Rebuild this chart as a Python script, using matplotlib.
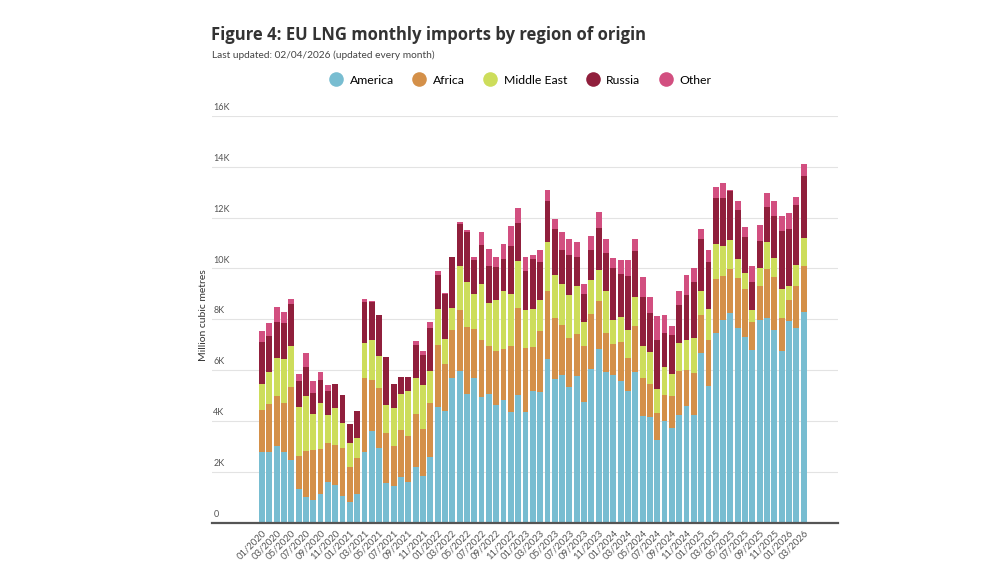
import numpy as np
import matplotlib
matplotlib.use("Agg")
import matplotlib.pyplot as plt
from matplotlib.lines import Line2D
from matplotlib.transforms import blended_transform_factory

# ---- data (million cubic metres, read in thousands) ----
months = [f"{m:02d}/{y}" for y in range(2020, 2027) for m in range(1, 13)][:75]

america = np.array([2.77, 2.77, 3.01, 2.77, 2.46, 1.30, 0.99, 0.88, 1.12, 1.59, 1.49, 1.03,
                    0.82, 1.13, 2.79, 3.59, 2.93, 1.57, 1.45, 1.80, 1.59, 2.20, 1.84, 2.56,
                    4.55, 4.40, 5.68, 5.95, 5.07, 5.70, 4.93, 5.04, 4.64, 4.83, 4.34, 5.00,
                    4.34, 5.17, 5.13, 6.45, 5.66, 5.79, 5.34, 5.76, 4.76, 6.03, 6.84, 5.92,
                    5.82, 5.55, 5.18, 5.91, 4.21, 4.14, 3.24, 4.01, 3.71, 4.24, 4.57, 4.24,
                    6.67, 5.39, 7.46, 7.99, 8.24, 7.67, 7.32, 6.80, 7.99, 8.04, 7.59, 6.74,
                    7.95, 7.66, 8.28]) * 1000
africa = np.array([1.67, 1.90, 1.95, 1.94, 2.89, 1.33, 1.81, 1.96, 1.79, 1.54, 1.57, 1.89,
                   1.38, 1.39, 2.90, 2.02, 2.38, 1.96, 1.55, 1.84, 1.81, 2.08, 1.85, 2.16,
                   2.43, 1.83, 1.91, 2.43, 2.64, 1.93, 2.27, 1.91, 2.10, 1.99, 2.61, 3.45,
                   2.53, 1.75, 2.40, 2.66, 2.37, 1.97, 1.94, 1.66, 2.19, 2.18, 1.87, 1.55,
                   1.21, 1.57, 1.30, 1.81, 1.47, 1.32, 1.08, 1.02, 1.26, 1.73, 1.43, 1.63,
                   1.51, 1.81, 2.11, 1.73, 1.75, 1.97, 1.88, 1.08, 1.30, 1.95, 2.09, 1.30,
                   0.79, 1.63, 1.81]) * 1000
middle_east = np.array([1.02, 1.26, 1.52, 1.72, 1.61, 1.92, 2.18, 1.45, 1.80, 1.12, 1.45, 1.01,
                        0.92, 0.81, 1.39, 1.59, 1.24, 1.08, 1.49, 1.41, 1.76, 1.39, 1.74, 1.24,
                        1.42, 1.01, 0.87, 1.70, 1.76, 1.37, 2.17, 1.69, 2.01, 2.28, 2.05, 1.84,
                        1.48, 1.50, 1.22, 1.94, 1.73, 1.63, 1.69, 1.88, 0.93, 1.33, 1.21, 1.64,
                        0.93, 0.98, 1.08, 1.15, 1.27, 1.25, 0.92, 1.09, 0.87, 1.10, 1.20, 1.41,
                        0.93, 1.22, 1.40, 1.16, 1.14, 0.74, 0.64, 0.50, 0.72, 1.05, 0.73, 1.16,
                        0.55, 0.83, 1.11]) * 1000
russia = np.array([1.63, 1.42, 1.41, 1.41, 1.65, 1.01, 1.13, 0.79, 0.91, 0.93, 0.95, 1.09,
                   0.76, 1.04, 1.60, 1.49, 1.60, 1.90, 0.96, 0.68, 0.57, 1.33, 1.17, 1.71,
                   1.34, 1.75, 1.99, 1.68, 1.95, 1.33, 1.55, 1.45, 1.32, 1.29, 1.87, 1.50,
                   1.54, 1.95, 1.49, 1.61, 1.78, 1.33, 1.54, 1.15, 1.13, 1.18, 1.66, 1.48,
                   2.07, 1.69, 2.15, 1.81, 1.91, 1.54, 1.96, 1.35, 1.55, 1.48, 1.77, 2.17,
                   2.05, 1.84, 1.81, 1.90, 1.92, 1.92, 1.40, 1.08, 1.07, 1.38, 1.64, 2.27,
                   2.25, 2.37, 2.43]) * 1000
other = np.array([0.43, 0.50, 0.60, 0.43, 0.20, 0.27, 0.58, 0.50, 0.29, 0.22, 0.00, 0.00,
                  0.00, 0.00, 0.11, 0.03, 0.00, 0.00, 0.00, 0.00, 0.00, 0.16, 0.16, 0.24,
                  0.15, 0.03, 0.00, 0.08, 0.11, 0.12, 0.50, 0.67, 0.38, 0.58, 0.79, 0.60,
                  0.55, 0.16, 0.47, 0.42, 0.42, 0.70, 0.65, 0.60, 0.38, 0.56, 0.63, 0.57,
                  0.40, 0.55, 0.62, 0.48, 0.80, 0.64, 0.91, 0.71, 0.33, 0.58, 0.79, 0.55,
                  0.41, 0.48, 0.43, 0.59, 0.05, 0.34, 0.39, 0.62, 0.62, 0.55, 0.61, 0.58,
                  0.66, 0.33, 0.47]) * 1000

series_names = ["America", "Africa", "Middle East", "Russia", "Other"]
series_values = [america, africa, middle_east, russia, other]
colors = ["#78bdd1", "#d49049", "#cddd5b", "#901f3c", "#d24f80"]

yticks = [0, 2000, 4000, 6000, 8000, 10000, 12000, 14000, 16000]
ytick_labels = ["0", "2K", "4K", "6K", "8K", "10K", "12K", "14K", "16K"]

# ---- figure ----
W, H = 990, 587
fig = plt.figure(figsize=(W / 100, H / 100), dpi=100)
ax = fig.add_axes([212 / W, (H - 522.5) / H, (838 - 212) / W, (522.5 - 116) / H])

x = np.arange(len(months))
bottom = np.zeros(len(months))
for name, vals, c in zip(series_names, series_values, colors):
    ax.bar(x, vals, bottom=bottom, width=0.8, color=c, linewidth=0, zorder=3)
    bottom += vals

ax.set_xlim(-6.83, 78.7)
ax.set_ylim(0, 16000)

for s in ["top", "right", "left"]:
    ax.spines[s].set_visible(False)
ax.spines["bottom"].set_color("#555555")
ax.spines["bottom"].set_linewidth(1.6)
ax.spines["bottom"].set_zorder(4)

ax.set_yticks(yticks)
ax.yaxis.grid(True, color="#e3e3e3", linewidth=0.8, zorder=0)
ax.tick_params(axis="y", length=0, labelleft=False)
trans = blended_transform_factory(ax.transAxes, ax.transData)
for v, lab in zip(yticks, ytick_labels):
    ax.text(0.002, v + 150, lab, transform=trans, ha="left", va="bottom",
            fontsize=6.5, color="#555555", family="Lato")

ax.set_xticks(x[::2])
ax.set_xticklabels(months[::2], rotation=45, ha="right", rotation_mode="anchor",
                   fontsize=6.8, color="#555555", family="Lato")
ax.tick_params(axis="x", length=0, pad=4)

fig.text(203 / W, 1 - 315 / H, "Million cubic metres", rotation=90, ha="center", va="center",
         fontsize=7.5, color="#333333", family="Lato")

fig.text(211 / W, 1 - 35 / H, "Figure 4: EU LNG monthly imports by region of origin",
         ha="left", va="center", fontsize=12.0, fontweight="bold", color="#333333",
         family="Open Sans")
fig.text(212 / W, 1 - 55 / H, "Last updated: 02/04/2026 (updated every month)",
         ha="left", va="center", fontsize=7.3, color="#444444", family="Lato")

handles = [Line2D([0], [0], marker="o", linestyle="none", markersize=10.5,
                  markerfacecolor=c, markeredgecolor="none") for c in colors]
fig.legend(handles, series_names, loc="center", bbox_to_anchor=(519 / W, 1 - 80 / H),
           ncol=5, frameon=False, handletextpad=0.3, columnspacing=1.3, handlelength=1.6,
           prop={"family": "Lato", "size": 8.8})

fig.savefig("out.png", dpi=100)
